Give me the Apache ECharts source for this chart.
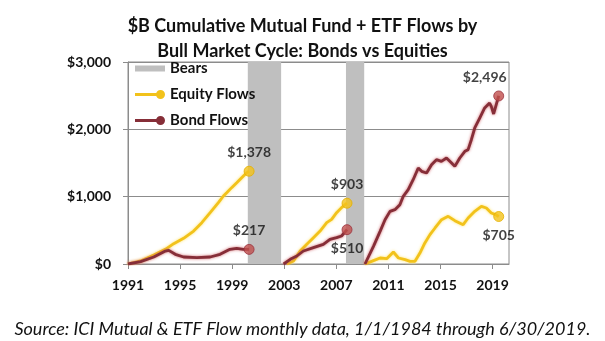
<!DOCTYPE html>
<html>
<head>
<meta charset="utf-8">
<script src="https://cdn.jsdelivr.net/npm/echarts@6/dist/echarts.min.js"></script>
<style>
html,body{margin:0;padding:0;background:#fff;}
#chart{width:605px;height:341px;}
</style>
</head>
<body>
<div id="chart"></div>
<script>
// ---- data (year, $B cumulative flows) ----
const xTickLabels = [1991, 1995, 1999, 2003, 2007, 2011, 2015, 2019];
const yTickValues = [0, 1000, 2000, 3000];
const bearPeriods = [[2000.2, 2002.76], [2007.74, 2009.14]];

const equityCycle1 = [[1991.0,0],[1991.97,45],[1992.98,134],[1993.87,218],[1994.51,302],[1995.27,381],[1996.04,490],[1996.67,614],[1997.31,762],[1997.94,911],[1998.33,1010],[1998.58,1059],[1998.96,1134],[1999.35,1208],[1999.73,1282],[2000.06,1345],[2000.3,1378]];
const bondCycle1 = [[1991.0,0],[1991.97,35],[1992.98,104],[1993.87,193],[1994.13,203],[1994.63,144],[1995.27,104],[1996.29,94],[1997.31,104],[1998.07,144],[1998.83,218],[1999.35,233],[1999.86,218],[2000.3,217]];

const equityCycle2 = [[2003.2,0],[2003.71,45],[2004.22,193],[2004.73,292],[2005.24,391],[2005.75,490],[2006.26,614],[2006.64,663],[2007.02,762],[2007.4,837],[2007.82,903]];
const bondCycle2 = [[2002.95,0],[2003.46,69],[2003.97,119],[2004.47,193],[2005.24,243],[2006.0,292],[2006.51,366],[2007.02,391],[2007.4,416],[2007.82,510]];

const equityCycle3 = [[2009.2,0],[2009.85,50],[2010.36,89],[2010.87,79],[2011.38,178],[2011.77,89],[2012.28,64],[2012.66,40],[2013.04,40],[2013.42,163],[2013.8,312],[2014.19,436],[2014.58,535],[2015.08,658],[2015.59,708],[2016.1,644],[2016.74,584],[2017.12,683],[2017.63,782],[2018.14,856],[2018.52,832],[2018.9,757],[2019.23,733],[2019.47,705]];
const bondCycle3 = [[2009.2,0],[2009.85,262],[2010.36,485],[2010.74,658],[2011.12,782],[2011.5,807],[2011.88,881],[2012.14,1005],[2012.52,1104],[2012.9,1252],[2013.29,1426],[2013.55,1376],[2013.93,1351],[2014.31,1475],[2014.69,1549],[2015.07,1525],[2015.46,1574],[2015.85,1500],[2016.1,1450],[2016.48,1574],[2016.87,1673],[2017.12,1698],[2017.37,1846],[2017.63,2020],[2018.01,2168],[2018.39,2317],[2018.77,2391],[2018.9,2341],[2019.08,2228],[2019.28,2366],[2019.47,2496]];

// ---- styles ----
const FONT = 'Lato';
const EQ_COLOR = '#F2C21B';
const BOND_COLOR = '#862E38';
const BEAR_COLOR = '#BFBFBF';

const lineIcon = 'path://M0,4.5H21.5V7.5H0Z M21,6A4.5,4.5 0 1,1 30,6A4.5,4.5 0 1,1 21,6Z';
const rectIcon = 'path://M0,3H30V9H0Z';

function fmt(v){ return '$' + v.toLocaleString('en-US'); }

function lineSeries(name, data, color, glow){
  return {
    name: name, type: 'line', data: data, symbol: 'none', z: 3,
    itemStyle: {color: color, borderWidth: 0},
    lineStyle: {color: color, width: 2.8, shadowColor: glow, shadowBlur: 3},
    emphasis: {disabled: true}, animation: false
  };
}

const endPoints = [
  {pt: equityCycle1[equityCycle1.length-1], color: EQ_COLOR, border: '#E5B000', pos: 'top', offset: [0, -2]},
  {pt: bondCycle1[bondCycle1.length-1], color: '#C0504D', border: '#9B3340', pos: 'top', offset: [0, -2]},
  {pt: equityCycle2[equityCycle2.length-1], color: EQ_COLOR, border: '#E5B000', pos: 'top', offset: [0, -2]},
  {pt: bondCycle2[bondCycle2.length-1], color: '#C0504D', border: '#9B3340', pos: 'bottom', offset: [0, 2]},
  {pt: bondCycle3[bondCycle3.length-1], color: '#C0504D', border: '#9B3340', pos: 'top', offset: [-14, -2]},
  {pt: equityCycle3[equityCycle3.length-1], color: EQ_COLOR, border: '#E5B000', pos: 'bottom', offset: [0, 2]}
];

const chart = echarts.init(document.getElementById('chart'), null, {renderer: 'canvas'});
const option = {
  animation: false,
  backgroundColor: '#fff',
  title: [
    {
      text: '$B Cumulative Mutual Fund + ETF Flows by\nBull Market Cycle: Bonds vs Equities',
      left: 'center', top: 9,
      textStyle: {fontFamily: FONT, fontSize: 18, fontWeight: 'bold', color: '#111', lineHeight: 25}
    },
    {
      text: 'Source: ICI Mutual & ETF Flow monthly data, 1/1/1984 through 6/30/2019.',
      left: 'center', top: 315,
      textStyle: {fontFamily: FONT, fontSize: 18, fontWeight: 'normal', fontStyle: 'italic', color: '#111'}
    }
  ],
  grid: {left: 128, right: 96, top: 62, bottom: 77, show: true, borderColor: '#8C8C8C', borderWidth: 1, containLabel: false},
  legend: {
    orient: 'vertical', left: 135, top: 61, padding: 0, itemGap: 11,
    itemWidth: 30, itemHeight: 12,
    textStyle: {fontFamily: FONT, fontSize: 15, fontWeight: 'bold', color: '#111'},
    data: [
      {name: 'Bears', icon: rectIcon, itemStyle: {color: BEAR_COLOR, borderWidth: 0}},
      {name: 'Equity Flows', icon: lineIcon, itemStyle: {color: EQ_COLOR, borderWidth: 0}},
      {name: 'Bond Flows', icon: lineIcon, itemStyle: {color: BOND_COLOR, borderWidth: 0}}
    ],
    selectedMode: false
  },
  xAxis: {
    type: 'value', min: 1991, max: 2020.26,
    axisLine: {show: true, lineStyle: {color: '#8C8C8C'}},
    axisTick: {show: true, length: 5, lineStyle: {color: '#8C8C8C'}, customValues: xTickLabels},
    axisLabel: {customValues: xTickLabels, margin: 14, fontFamily: FONT, fontSize: 14, fontWeight: 'bold', color: '#111', formatter: v => String(v)},
    splitLine: {show: false}
  },
  yAxis: {
    type: 'value', min: 0, max: 3000, interval: 1000,
    axisLine: {show: true, lineStyle: {color: '#8C8C8C'}},
    axisTick: {show: true, length: 5, lineStyle: {color: '#8C8C8C'}},
    axisLabel: {margin: 17, fontFamily: FONT, fontSize: 14, fontWeight: 'bold', color: '#111', formatter: v => fmt(v)},
    splitLine: {show: true, lineStyle: {color: '#8C8C8C', width: 1}}
  },
  series: [
    {
      name: 'Bears', type: 'line', data: [], z: 1,
      itemStyle: {color: BEAR_COLOR, borderWidth: 0},
      markArea: {
        silent: true,
        itemStyle: {color: BEAR_COLOR, opacity: 1},
        data: bearPeriods.map(p => [{xAxis: p[0]}, {xAxis: p[1]}])
      }
    },
    lineSeries('Equity Flows', equityCycle1, EQ_COLOR, 'rgba(255,225,90,0.9)'),
    lineSeries('Equity Flows', equityCycle2, EQ_COLOR, 'rgba(255,225,90,0.9)'),
    lineSeries('Equity Flows', equityCycle3, EQ_COLOR, 'rgba(255,225,90,0.9)'),
    lineSeries('Bond Flows', bondCycle1, BOND_COLOR, 'rgba(205,90,95,0.9)'),
    lineSeries('Bond Flows', bondCycle2, BOND_COLOR, 'rgba(205,90,95,0.9)'),
    lineSeries('Bond Flows', bondCycle3, BOND_COLOR, 'rgba(205,90,95,0.9)'),
    {
      name: 'ends', type: 'scatter', z: 5, symbol: 'circle', symbolSize: 10,
      data: endPoints.map(e => ({
        value: e.pt,
        itemStyle: {color: e.color, borderColor: e.border, borderWidth: 1},
        label: {show: true, position: e.pos, offset: e.offset, distance: 4, formatter: () => fmt(e.pt[1]),
          fontFamily: FONT, fontSize: 14, fontWeight: 'bold', color: '#111'}
      })),
      emphasis: {disabled: true}
    }
  ]
};
chart.setOption(option);
</script>
</body>
</html>
